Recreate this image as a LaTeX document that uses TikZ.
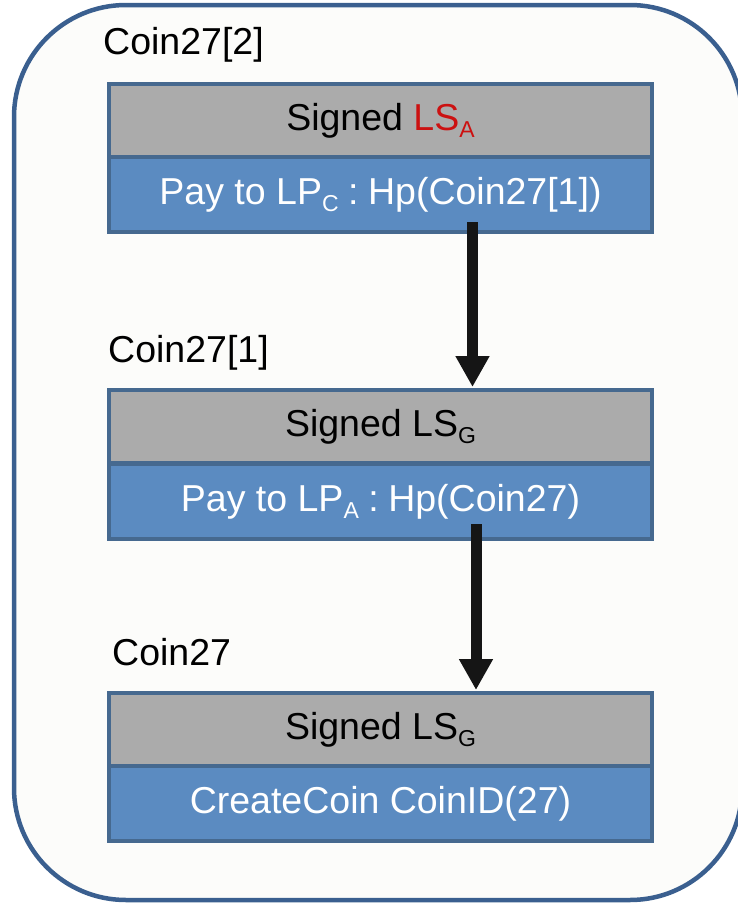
\documentclass[tikz,border=0pt]{standalone}
\usepackage{fontspec}
\setmainfont{Liberation Sans}
\usetikzlibrary{arrows.meta}
\definecolor{grayfill}{HTML}{ABABAB}
\definecolor{bluefill}{HTML}{5B8BC1}
\definecolor{boxborder}{HTML}{46698F}
\definecolor{outerborder}{HTML}{3A5F8F}
\definecolor{bgfill}{HTML}{FCFCFA}
\definecolor{lsred}{HTML}{CC1111}
\definecolor{arrowcol}{HTML}{151515}
\newcommand{\subtx}[1]{\raisebox{-7pt}{\fontsize{23}{23}\selectfont #1}}
\newcommand{\colsep}{\hspace{9.5pt}:\hspace{9.5pt}}
\begin{document}
\begin{tikzpicture}[x=1pt,y=-1pt,
  outerbox/.style={draw=outerborder, line width=4.5pt, fill=bgfill, rounded corners=112pt},
  graybox/.style={draw=boxborder, line width=4pt, fill=grayfill, rectangle, inner sep=0pt,
    minimum width=543pt, minimum height=73pt, anchor=north west, text=black,
    font=\fontsize{37.5}{44}\selectfont},
  bluebox/.style={draw=boxborder, line width=4pt, fill=bluefill, rectangle, inner sep=0pt,
    minimum width=543pt, minimum height=75pt, anchor=north west, text=white,
    font=\fontsize{37.5}{44}\selectfont},
  lbl/.style={anchor=base west, inner sep=0pt, text=black, font=\fontsize{37.5}{44}\selectfont},
  bigarrow/.style={draw=arrowcol, line width=11pt, -{Triangle[width=32pt,length=31pt]}, fill=arrowcol}
]
\useasboundingbox (0,0) rectangle (737,905);
\draw[outerbox] (14,5) rectangle (742,900);

\node[lbl] (l1) at (103,54) {Coin27[2]};
\node[graybox] (s1) at (107,82) {Signed \textcolor{lsred}{LS\subtx{A}}};
\node[bluebox] (p1) at (107,155) {Pay to LP\subtx{C}\colsep Hp(Coin27[1])};

\node[lbl] (l2) at (108,362) {Coin27[1]};
\node[graybox] (s2) at (107,388) {Signed LS\subtx{G}};
\node[bluebox] (p2) at (107,462) {Pay to LP\subtx{A}\colsep Hp(Coin27)};

\node[lbl] (l3) at (112,665) {Coin27};
\node[graybox] (s3) at (107,691) {Signed LS\subtx{G}};
\node[bluebox] (p3) at (107,764) {CreateCoin CoinID(27)};

\draw[bigarrow] ([xshift=92pt,yshift=12pt]p1.south) -- ([xshift=92pt,yshift=1pt]s2.north);
\draw[bigarrow] ([xshift=95.5pt,yshift=17pt]p2.south) -- ([xshift=95.5pt,yshift=1pt]s3.north);
\end{tikzpicture}
\end{document}
